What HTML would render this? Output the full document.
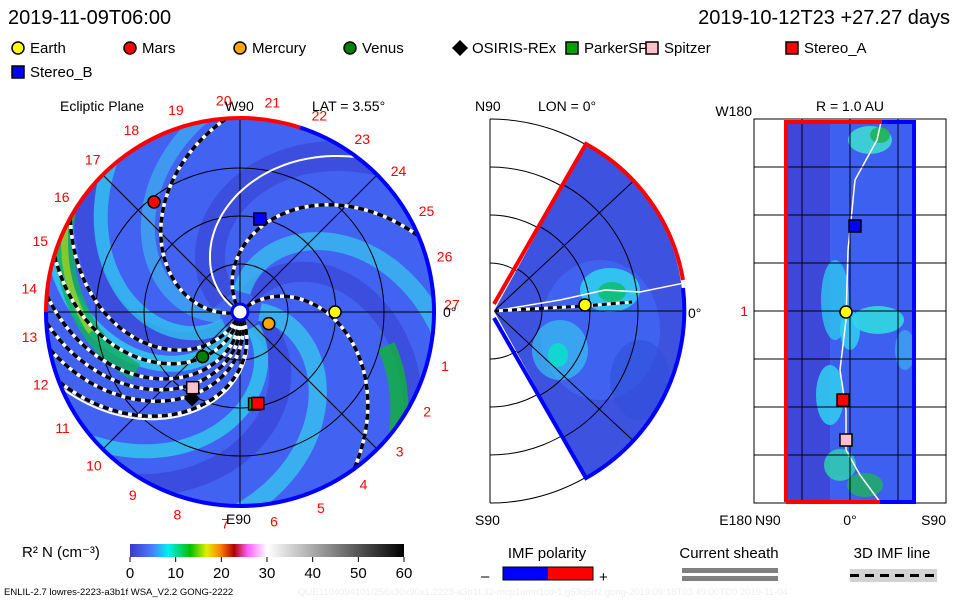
<!DOCTYPE html>
<html><head><meta charset="utf-8"><style>
body{margin:0;background:#fff;width:960px;height:600px;overflow:hidden;font-family:"Liberation Sans",sans-serif}
svg text{font-family:"Liberation Sans",sans-serif}
</style></head><body>
<svg id="s" width="960" height="600" viewBox="0 0 960 600">
<defs>
<clipPath id="cp1"><circle cx="240" cy="312" r="194"/></clipPath>
<clipPath id="cp2"><path d="M494,311 L586,144 A192,192 0 0 1 586,478 Z"/></clipPath>
<clipPath id="cp3"><rect x="786" y="122" width="128" height="380"/></clipPath>
<linearGradient id="cb" x1="0" x2="1">
<stop offset="0" stop-color="#3a3ac8"/><stop offset="0.08" stop-color="#4a7cff"/><stop offset="0.14" stop-color="#00f0f0"/><stop offset="0.22" stop-color="#00c000"/><stop offset="0.28" stop-color="#e0f000"/><stop offset="0.33" stop-color="#ff8000"/><stop offset="0.38" stop-color="#b00000"/><stop offset="0.43" stop-color="#ff60ff"/><stop offset="0.5" stop-color="#ffffff"/><stop offset="1" stop-color="#000"/>
</linearGradient>
</defs>
<text x="8" y="24" font-size="20">2019-11-09T06:00</text>
<text x="950" y="24" font-size="20" text-anchor="end">2019-10-12T23 +27.27 days</text>
<g id="legend" font-size="15"></g>
<g id="p1"></g><g id="p2"></g><g id="p3"></g><g id="bot"></g>
</svg>
<script>
const NS='http://www.w3.org/2000/svg';
function mk(parent,tag,attrs,txt){const e=document.createElementNS(NS,tag);for(const k in attrs)e.setAttribute(k,attrs[k]);if(txt!==undefined)e.textContent=txt;parent.appendChild(e);return e;}

const legendNames=['Earth','Mars','Mercury','Venus','OSIRIS-REx','ParkerSP','Spitzer','Stereo_A','Stereo_B'];
const legendColors=['#ffff00','#ff0000','#ffa500','#008000','#000000','#00a000','#ffc0cb','#ff0000','#0000ff'];
const legendShapes=['c','c','c','c','d','s','s','s','s'];
const colorTicks=[0,10,20,30,40,50,60];
const dayLabels=[1,2,3,4,5,6,7,8,9,10,11,12,13,14,15,16,17,18,19,20,21,22,23,24,25,26,27];
const eclR=[0.49,0.72,0.16,0.30,0.51,0.48,0.46,0.48,0.49];
const eclA=[0,128,-22,-130,-119,-81,-122,-79,78];
const spiralStarts=[43,120,191,-62,-72,-80,-88,-100,-112];

function marker(g,shape,x,y,col,name,sz){
  let e;
  if(shape==='c')e=mk(g,'circle',{cx:x,cy:y,r:sz||6,fill:col,stroke:'#000','stroke-width':1.5});
  else if(shape==='s')e=mk(g,'rect',{x:x-6,y:y-6,width:12,height:12,fill:col,stroke:'#000','stroke-width':1.5});
  else e=mk(g,'polygon',{points:`${x},${y-8} ${x+8},${y} ${x},${y+8} ${x-8},${y}`,fill:col});
  
  
  return e;
}
const lg=document.getElementById('legend');
const lx=[18,130,240,350,460,572,652,792,18],ly=[48,48,48,48,48,48,48,48,72];
legendNames.forEach((n,i)=>{
  marker(lg,legendShapes[i],lx[i],ly[i],legendColors[i],'legend-marker-'+n.toLowerCase());
  const t=mk(lg,'text',{x:lx[i]+12,y:ly[i]+5},n);
  
  
});

const p1=document.getElementById('p1');const cx=240,cy=312,R=194;
mk(p1,'circle',{cx,cy,r:R,fill:'#4262f2'});
const g1=mk(p1,'g',{'clip-path':'url(#cp1)'});
function spiral(a0,r0,r1,k){k=k||0.5;let d='';for(let r=r0;r<=r1;r+=3){const a=(a0-r*k)*Math.PI/180;const x=cx+r*Math.cos(a),y=cy-r*Math.sin(a);d+=(d?'L':'M')+x.toFixed(1)+','+y.toFixed(1);}return d;}
[[150,'#3a4ad8',30],[70,'#3a4ad8',20],[-20,'#3a48d8',22],[240,'#3a4ad8',20]].forEach(b=>mk(g1,'path',{d:spiral(b[0],20,260),fill:'none',stroke:b[1],'stroke-width':b[2],opacity:0.8}));
[[95,'#38c8f0',18],[10,'#38d0f0',18],[-40,'#30d8f0',14],[-100,'#30e0f0',16],[-130,'#30d0f0',14],[200,'#40b0f0',14]].forEach(b=>{
  mk(g1,'path',{d:spiral(b[0],20,260),fill:'none',stroke:b[1],'stroke-width':b[2],opacity:0.7});
});
mk(g1,'path',{d:spiral(300,120,260,0.75),fill:'none',stroke:'#10b060','stroke-width':18,opacity:0.85});
mk(g1,'path',{d:spiral(300,150,260,0.75),fill:'none',stroke:'#a0d020','stroke-width':7,opacity:0.8});
mk(g1,'path',{d:spiral(62,150,260,0.5),fill:'none',stroke:'#10b040','stroke-width':18,opacity:0.85});
[48,96,144].forEach(r=>mk(g1,'circle',{cx,cy,r,fill:'none',stroke:'#000','stroke-width':1}));
mk(g1,'line',{x1:cx-R,y1:cy,x2:cx+R,y2:cy,stroke:'#000'});mk(g1,'line',{x1:cx,y1:cy-R,x2:cx,y2:cy+R,stroke:'#000'});
mk(g1,'line',{x1:cx-140,y1:cy-140,x2:cx+140,y2:cy+140,stroke:'#000'});mk(g1,'line',{x1:cx-140,y1:cy+140,x2:cx+140,y2:cy-140,stroke:'#000'});
[150,-60].forEach(a=>mk(g1,'path',{d:spiral(a,10,260),fill:'none',stroke:'#fff','stroke-width':2}));
spiralStarts.forEach((a,i)=>{
  const d=spiral(a,8,240);
  mk(g1,'path',{d,fill:'none',stroke:'#fff','stroke-width':3.5});
  const p=mk(g1,'path',{d,fill:'none',stroke:'#000','stroke-width':3.5,'stroke-dasharray':'6 4'});
  
  
});
function arc(r,a0,a1){const p=a=>[cx+r*Math.cos(a*Math.PI/180),cy-r*Math.sin(a*Math.PI/180)];const s=p(a0),e=p(a1);return `M${s[0]},${s[1]} A${r},${r} 0 ${Math.abs(a1-a0)>180?1:0} 0 ${e[0]},${e[1]}`;}
mk(p1,'path',{d:arc(R,72,180),fill:'none',stroke:'#ff0000','stroke-width':4});
mk(p1,'path',{d:arc(R,180,432),fill:'none',stroke:'#0000ff','stroke-width':4});
mk(p1,'circle',{cx,cy,r:8,fill:'#fff',stroke:'#0000ff','stroke-width':3});
dayLabels.forEach(d=>{
  const a=((27-d)*360/27.27+2)*Math.PI/180;const rr=212;
  const t=mk(p1,'text',{x:(cx+rr*Math.cos(a)).toFixed(1),y:(cy-rr*Math.sin(a)+5).toFixed(1),fill:'#ff0000','font-size':14,'text-anchor':'middle'},d);
  
  
});
mk(p1,'text',{x:60,y:111,'font-size':14},'Ecliptic Plane');
mk(p1,'text',{x:225,y:111,'font-size':14},'W90');
mk(p1,'text',{x:312,y:111,'font-size':14},'LAT = 3.55°');
mk(p1,'text',{x:226,y:524,'font-size':14},'E90');
mk(p1,'text',{x:443,y:317,'font-size':14},'0°');
legendNames.forEach((n,i)=>{
  const a=eclA[i]*Math.PI/180,r=eclR[i]*R;
  marker(p1,legendShapes[i],cx+r*Math.cos(a),cy-r*Math.sin(a),legendColors[i],'ecliptic-'+n.toLowerCase());
});

const p2=document.getElementById('p2');const mx=490,my=311;
mk(p2,'line',{x1:mx,y1:119,x2:mx,y2:503,stroke:'#000'});
[48,96,144,192].forEach(r=>mk(p2,'path',{d:`M${mx},${my-r} A${r},${r} 0 0 1 ${mx},${my+r}`,fill:'none',stroke:'#000'}));
mk(p2,'path',{d:'M494,311 L586,144 A192,192 0 0 1 586,478 Z',fill:'#3e52e0'});
const g2=mk(p2,'g',{'clip-path':'url(#cp2)'});
mk(g2,'ellipse',{cx:600,cy:330,rx:60,ry:70,fill:'#4068f4',opacity:0.8});
mk(g2,'ellipse',{cx:610,cy:290,rx:30,ry:22,fill:'#30d8f0',opacity:0.8});
mk(g2,'ellipse',{cx:612,cy:292,rx:14,ry:10,fill:'#10c080'});
mk(g2,'ellipse',{cx:560,cy:350,rx:28,ry:30,fill:'#38c0f0',opacity:0.7});
mk(g2,'ellipse',{cx:558,cy:355,rx:10,ry:12,fill:'#10d8d0'});
mk(g2,'ellipse',{cx:640,cy:380,rx:30,ry:40,fill:'#3050d8',opacity:0.6});
[48,96,144].forEach(r=>mk(g2,'circle',{cx:494,cy:311,r,fill:'none',stroke:'#000'}));
mk(g2,'line',{x1:494,y1:311,x2:700,y2:311,stroke:'#000'});
mk(g2,'line',{x1:494,y1:311,x2:640,y2:175,stroke:'#000'});mk(g2,'line',{x1:494,y1:311,x2:640,y2:447,stroke:'#000'});
mk(g2,'path',{d:'M494,311 L560,300 L605,290 L640,292 L684,283',fill:'none',stroke:'#fff','stroke-width':1.5});
mk(g2,'path',{d:'M494,311 L585,306 L632,302',fill:'none',stroke:'#fff','stroke-width':3});
mk(g2,'path',{d:'M494,311 L585,306 L632,302',fill:'none',stroke:'#000','stroke-width':3,'stroke-dasharray':'5 4'});
mk(p2,'path',{d:'M494,304 L586,144 A192,192 0 0 1 683,280',fill:'none',stroke:'#ff0000','stroke-width':4});
mk(p2,'path',{d:'M683,288 A192,192 0 0 1 586,478 L494,318',fill:'none',stroke:'#0000ff','stroke-width':4});
marker(p2,'c',585,305,'#ffff00','meridional-earth');
mk(p2,'text',{x:475,y:111,'font-size':14},'N90');
mk(p2,'text',{x:538,y:111,'font-size':14},'LON = 0°');
mk(p2,'text',{x:475,y:525,'font-size':14},'S90');
mk(p2,'text',{x:688,y:318,'font-size':14},'0°');

const p3=document.getElementById('p3');
mk(p3,'rect',{x:754,y:119,width:192,height:384,fill:'#fff',stroke:'#000'});
mk(p3,'rect',{x:786,y:122,width:128,height:380,fill:'#3e48d8'});
const g3=mk(p3,'g',{'clip-path':'url(#cp3)'});
mk(g3,'rect',{x:830,y:122,width:84,height:380,fill:'#3e60f0'});
[[870,140,22,14,'#40e0d0'],[880,135,10,8,'#20b050'],[835,300,14,40,'#30c0f0'],[878,320,26,14,'#30e0e0'],[830,395,14,30,'#30d0f0'],[840,465,16,16,'#30d0b0'],[865,485,18,12,'#20b060'],[850,330,10,20,'#30d0f0'],[905,350,10,20,'#40a0f0']].forEach(e=>mk(g3,'ellipse',{cx:e[0],cy:e[1],rx:e[2],ry:e[3],fill:e[4],opacity:0.85}));
mk(g3,'path',{d:'M881,122 L877,140 L855,180 L848,250 L846,320 L840,370 L846,410 L846,450 L860,475 L880,502',fill:'none',stroke:'#fff','stroke-width':1.5});
[167,215,263,311,359,407,455].forEach(y=>mk(p3,'line',{x1:754,y1:y,x2:946,y2:y,stroke:'#000'}));
[802,850,898].forEach(x=>mk(p3,'line',{x1:x,y1:119,x2:x,y2:503,stroke:'#000'}));
mk(p3,'path',{d:'M786,502 L786,122 L882,122',fill:'none',stroke:'#ff0000','stroke-width':4});
mk(p3,'path',{d:'M882,122 L914,122 L914,502 L880,502',fill:'none',stroke:'#0000ff','stroke-width':4});
mk(p3,'path',{d:'M786,502 L880,502',fill:'none',stroke:'#ff0000','stroke-width':4});
marker(p3,'s',855,226,'#0000ff','shell-stereo-b');
marker(p3,'c',846,312,'#ffff00','shell-earth');
marker(p3,'s',843,400,'#ff0000','shell-stereo-a');
marker(p3,'s',846,440,'#ffc0cb','shell-spitzer');
mk(p3,'text',{x:752,y:116,'font-size':14,'text-anchor':'end'},'W180');
mk(p3,'text',{x:850,y:111,'font-size':14,'text-anchor':'middle'},'R = 1.0 AU');
mk(p3,'text',{x:748,y:316,'font-size':14,'text-anchor':'end',fill:'#ff0000'},'1');
mk(p3,'text',{x:752,y:525,'font-size':14,'text-anchor':'end'},'E180');
mk(p3,'text',{x:755,y:525,'font-size':14},'N90');
mk(p3,'text',{x:850,y:525,'font-size':14,'text-anchor':'middle'},'0°');
mk(p3,'text',{x:946,y:525,'font-size':14,'text-anchor':'end'},'S90');

const bt=document.getElementById('bot');
mk(bt,'text',{x:22,y:557,'font-size':15},'R² N (cm⁻³)');
const cbx=130,cbw=274;
mk(bt,'rect',{x:cbx,y:544,width:cbw,height:13,fill:'url(#cb)'});
colorTicks.forEach(v=>{
  const x=cbx+v/60*cbw;
  mk(bt,'line',{x1:x,y1:557,x2:x,y2:562,stroke:'#000'});
  const t=mk(bt,'text',{x,y:578,'font-size':15,'text-anchor':'middle'},v);
  
  
});
mk(bt,'text',{x:547,y:558,'font-size':15,'text-anchor':'middle'},'IMF polarity');
mk(bt,'rect',{x:503,y:567,width:45,height:13,fill:'#0000ff'});
mk(bt,'rect',{x:548,y:567,width:45,height:13,fill:'#ff0000'});
mk(bt,'rect',{x:503,y:567,width:90,height:13,fill:'none',stroke:'#000'});
mk(bt,'text',{x:481,y:581,'font-size':15},'–');mk(bt,'text',{x:599,y:582,'font-size':15},'+');
mk(bt,'text',{x:729,y:558,'font-size':15,'text-anchor':'middle'},'Current sheath');
mk(bt,'rect',{x:682,y:568,width:96,height:5,fill:'#808080'});
mk(bt,'rect',{x:682,y:576,width:96,height:5,fill:'#808080'});
mk(bt,'text',{x:892,y:558,'font-size':15,'text-anchor':'middle'},'3D IMF line');
mk(bt,'rect',{x:850,y:569,width:87,height:13,fill:'#d3d3d3'});
mk(bt,'line',{x1:850,y1:575.5,x2:937,y2:575.5,stroke:'#000','stroke-width':3,'stroke-dasharray':'9 6'});
mk(bt,'text',{x:4,y:595,'font-size':9.5},'ENLIL-2.7 lowres-2223-a3b1f WSA_V2.2 GONG-2222');
mk(bt,'text',{x:298,y:595,'font-size':9.5,fill:'#eeeeee'},'QUE1104094101/256x30x90x1.2223-a3b1f.32-mcp1umn1cd-1.g53q5d2.gong-2019:09:18T03:49:00TC0    2019-11-04');
</script>
</body></html>
